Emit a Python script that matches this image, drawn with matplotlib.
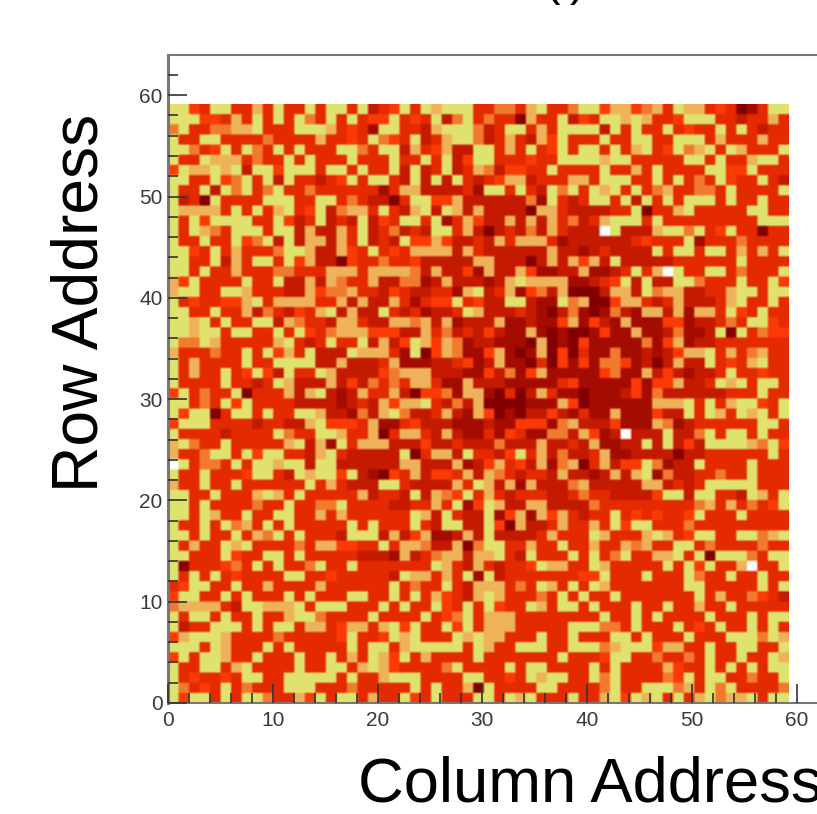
import numpy as np
import matplotlib
matplotlib.use("Agg")
import matplotlib.pyplot as plt
from matplotlib.colors import ListedColormap, BoundaryNorm

plt.rcParams["font.family"] = ["Liberation Sans", "DejaVu Sans"]

# cell level per row, top row (address 58) first. 0 = empty bin, 1 = low ... 8 = high
cols_0_19 = [
    "11451155251551511516", "11144525151513515154", "31553322155511125457", "15511555535555255451",
    "11354151351515551135", "15512225355151555155", "41221216114111511515", "11551431516155654151",
    "15516131531553555555", "16581555511155115356", "12222515152154163225", "15141111551465165616",
    "15123511151162662516", "15515514316162262516", "11451525553112662451", "11551625115142668455",
    "11515525553355522252", "24155551551662623552", "21155112555662433255", "15455442152222552626",
    "11551552635645216266", "11215155116235562256", "11211511551514532224", "13312555552156515516",
    "25553551514251666122", "15255551551111662666", "15255154146155126666", "15555155651266626463",
    "41535518555262167625", "11535141555566667656", "14118511515511266736", "41115555655662144452",
    "15555655551355112552", "21355155555216271522", "25531151411556215666", "01533515112116116666",
    "15515554115612114167", "25515515555551525666", "11551555212515555526", "11515555355155331555",
    "11512551551155252555", "15515132515155555151", "11515515231515556111", "15255121555535224455",
    "11555145511515555566", "18555435151553155155", "15151545555115545555", "54115515525555255555",
    "41155151555151555115", "32222561122215111555", "15115155155211355551", "16551115151152254225",
    "42111255553555554155", "11151255515155555151", "41511255155515515251", "15511521555515511521",
    "15455451155111115155", "13545153555111555355", "14115151135524151152",
]
cols_20_39 = [
    "54151211155335215531", "41545163153558255164", "11556211136511525111", "34516521136525624155",
    "11625426611525154151", "51551516411555455111", "51616516523644551555", "15616161565422655522",
    "75226666571151561315", "68511442666666371565", "15621612626666822566", "45115175246626262536",
    "53656115268656362566", "56144246656252225766", "54522226256666662667", "35546666622666862624",
    "22236266472662477662", "66337626667621222277", "64566557216527436288", "62575441546611677132",
    "15657665126665678637", "62232627666277677427", "44662536564677278788", "26412423766777828784",
    "25718423774278728485", "52777665476277858474", "43222666774637427777", "53522577266677777547",
    "52684437227858625778", "24221563628888777248", "21366526724878664675", "77546667776774447326",
    "85225626775745773362", "26664665666366626656", "66185226155641526366", "66226662764254627328",
    "84526445262356556266", "11566662512627266632", "55616234152565556653", "56655251741266226666",
    "55512615661742724256", "55515611661482665255", "62642776261666652555", "15223662831155255155",
    "67265322622156155515", "55555125625655412255", "56122525171655555554", "51535515622253512515",
    "51515245621255535151", "15155145151455125115", "55551543152225555555", "21415514152225555511",
    "41215551212255515515", "15211111512551115511", "24152555515555555155", "24555531555515115555",
    "21115555115545121155", "55515155281555511555", "55145155511512155515",
]
cols_40_58 = [
    "1422432512254587511", "5112125541115565525", "1615155154551515655", "5155115511152555255",
    "1515215413215125551", "1211555551151552115", "5155251555511441555", "5111551515351455156",
    "1215153255335155551", "1151615151115155155", "6655185521555551155", "5211151555555555111",
    "6016662113154155855", "6666545551755535555", "6566661511511525251", "2616666655555515555",
    "7765152015511535551", "6541616611355515514", "8622613226655211511", "8842256526665215515",
    "8736722627225145155", "4672777447665351145", "7477277637761815344", "7777737427665555555",
    "7737767642215253255", "7334768626615452155", "7437726467665155455", "7777474426651215115",
    "7776473666666555155", "7777772221515211451", "7727774661512512151", "6647772376555555115",
    "4760666166315115155", "2776616164611112314", "5277666686655555515", "5264413766155551555",
    "7626217366553551555", "6666622656511111555", "5566664116115561251", "3555555555325253541",
    "5515454554155515555", "2514115553555555555", "1255521254115511321", "2552325511535555355",
    "1531552215181113511", "1255555151415520551", "4155515551355155155", "1255555551155555151",
    "5515555555152553456", "1555155155255155555", "5155151555515551511", "1335155515451551515",
    "5511515551555111312", "1321114225515511551", "5411553553515515512", "1515555245515151511",
    "1315555341511553551", "5315511132513155553", "5214121515213221511",
]

level_colors = ["#ffffff", "#e0e26e", "#eeb25a", "#f17a2e", "#fb3a06", "#e42a00",
                "#c41a00", "#a50c00", "#840000"]

x_ticks = [0, 10, 20, 30, 40, 50, 60]
y_ticks = [0, 10, 20, 30, 40, 50, 60]

rows = [a + b + c for a, b, c in zip(cols_0_19, cols_20_39, cols_40_58)]
grid = np.array([[int(ch) for ch in row] for row in rows])

fig = plt.figure(figsize=(8.17, 8.14), dpi=100)
ax = fig.add_axes([168 / 817, (814 - 703) / 814, 649 / 817, 648 / 814])

cmap = ListedColormap(level_colors)
norm = BoundaryNorm(np.arange(-0.5, 9.5), cmap.N)
# the reference is a soft upscaled scan, so blur the cell edges a little
rgb = cmap(norm(grid))[:, :, :3]
rgb = rgb.repeat(4, axis=0).repeat(4, axis=1)
ax.imshow(rgb, extent=[0, 59.25, 0, 59.1], origin="upper", aspect="auto",
          interpolation="bilinear", zorder=1)

ax.set_xlim(0, 61.93)
ax.set_ylim(0, 63.97)
ax.spines["right"].set_visible(False)
for side in ["top", "bottom", "left"]:
    ax.spines[side].set_color("#777777")
    ax.spines[side].set_linewidth(1.5)
ax.spines["left"].set_linewidth(2.2)
ax.set_axisbelow(False)

ax.set_xticks(x_ticks)
ax.set_yticks(y_ticks)
ax.set_xticks(np.arange(0, 61, 2), minor=True)
ax.set_yticks(np.arange(0, 63, 2), minor=True)
ax.tick_params(which="major", direction="in", length=14, width=1.2, color="#333333",
               labelsize=15, labelcolor="#3a3a3a", pad=4)
ax.tick_params(which="minor", direction="in", length=7, width=1.2, color="#333333")
ax.tick_params(axis="x", which="major", pad=6)
ax.get_yticklabels()[0].set_y(0.3)

fig.text(81 / 817, 1 - 303 / 814, "Row Address", rotation=90, fontsize=46.2, color="black",
         ha="center", va="center")
fig.text(358 / 817, 1 - 802 / 814, "Column Address", fontsize=45.6, color="black",
         ha="left", va="baseline")
fig.text(565 / 817, 1 + 5 / 814, "(i)", fontsize=34, color="black", ha="center", va="baseline")

fig.savefig("out.png", dpi=100)
